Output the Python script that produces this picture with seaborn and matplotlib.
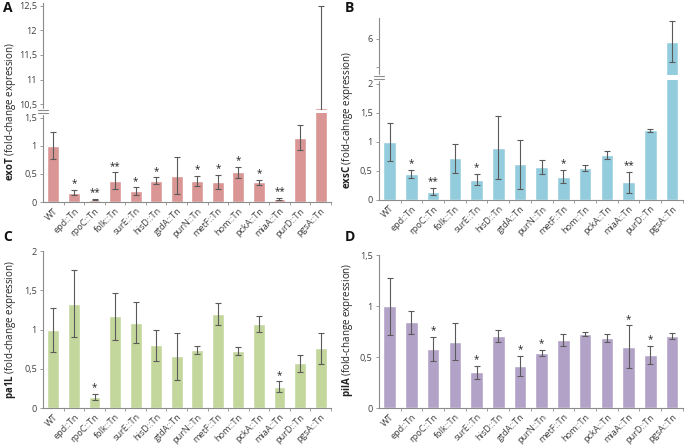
import matplotlib.pyplot as plt
import pandas as pd
import seaborn as sns
from matplotlib.lines import Line2D
from matplotlib.patches import Rectangle
from matplotlib.ticker import FuncFormatter, FixedLocator

strains = ["WT", "epd::Tn", "rpoC::Tn", "folk::Tn", "surE::Tn", "hisD::Tn",
           "gtdA::Tn", "purN::Tn", "metF::Tn", "hom::Tn", "pckA::Tn",
           "miaA::Tn", "purD::Tn", "pgsA::Tn"]

exot_mean = [1.0, 0.17, 0.04, 0.38, 0.19, 0.38, 0.47, 0.38, 0.36, 0.53,
             0.35, 0.05, 1.15, 10.43]
exot_err = [0.24, 0.04, 0.01, 0.15, 0.07, 0.06, 0.33, 0.09, 0.12, 0.10,
            0.05, 0.02, 0.22, 2.07]
exot_stars = ["", "*", "**", "**", "*", "*", "", "*", "*", "*", "*", "**",
              "", ""]

exsc_mean = [1.0, 0.45, 0.14, 0.72, 0.35, 0.90, 0.61, 0.57, 0.40, 0.55,
             0.78, 0.30, 1.20, 5.81]
exsc_err = [0.33, 0.07, 0.06, 0.25, 0.10, 0.54, 0.42, 0.12, 0.11, 0.05,
            0.07, 0.18, 0.03, 1.43]
exsc_stars = ["", "*", "**", "", "*", "", "", "", "*", "", "", "**", "", ""]

pa1l_mean = [1.0, 1.33, 0.14, 1.17, 1.09, 0.80, 0.66, 0.74, 1.20, 0.73,
             1.07, 0.27, 0.57, 0.76]
pa1l_err = [0.28, 0.43, 0.04, 0.30, 0.26, 0.20, 0.30, 0.05, 0.14, 0.05,
            0.10, 0.07, 0.11, 0.20]
pa1l_stars = ["", "", "*", "", "", "", "", "", "", "", "", "*", "", ""]

pila_mean = [1.0, 0.84, 0.58, 0.65, 0.35, 0.71, 0.41, 0.54, 0.67, 0.73,
             0.69, 0.60, 0.52, 0.71]
pila_err = [0.28, 0.11, 0.12, 0.18, 0.06, 0.06, 0.10, 0.03, 0.06, 0.02,
            0.04, 0.21, 0.09, 0.03]
pila_stars = ["", "", "*", "", "*", "", "*", "*", "", "", "", "*", "*", ""]

sns.set_theme(style="white")
plt.rcParams["font.family"] = ["Open Sans", "DejaVu Sans"]
plt.rcParams["mathtext.fontset"] = "custom"
plt.rcParams["mathtext.bf"] = "Open Sans:bold"
plt.rcParams["mathtext.rm"] = "Open Sans"

SPINE = "#8c8c8c"
TEXT = "#404040"
ERR = "#5a5a5a"

comma_fmt = FuncFormatter(lambda v, p: f"{v:g}".replace(".", ","))


def draw_bars(ax, means, errs, stars, color, show_x=True):
    df = pd.DataFrame({"strain": strains, "value": means})
    sns.barplot(data=df, x="strain", y="value", color=color, width=0.58,
                saturation=1, errorbar=None, ax=ax)
    ax.errorbar(range(len(strains)), means, yerr=errs, fmt="none",
                ecolor=ERR, elinewidth=0.8, capsize=2, capthick=0.8)
    lo, hi = ax.get_ylim()
    for i, (m, e, s) in enumerate(zip(means, errs, stars)):
        if s and lo <= m + e <= hi:
            ax.annotate(s, (i, m + e), xytext=(0, 0.5),
                        textcoords="offset points", ha="center", va="bottom",
                        fontsize=7, color="#222222")
    ax.set_xlim(-0.5, len(strains) - 0.5)
    ax.set_xlabel("")
    ax.set_ylabel("")
    sns.despine(ax=ax)
    for side in ("left", "bottom"):
        ax.spines[side].set_color(SPINE)
        ax.spines[side].set_linewidth(0.8)
    ax.yaxis.set_major_formatter(comma_fmt)
    ax.tick_params(axis="y", length=2.5, width=0.6, color=SPINE,
                   labelsize=6.6, labelcolor=TEXT, pad=2, left=True)
    ax.xaxis.set_minor_locator(FixedLocator(
        [i + 0.5 for i in range(len(strains))]))
    ax.tick_params(axis="x", which="major", length=0)
    ax.tick_params(axis="x", which="minor", length=2.5, width=0.6,
                   color=SPINE, bottom=True)
    if show_x:
        ax.set_xticks(range(len(strains)))
        ax.set_xticklabels(strains, rotation=45, ha="right",
                           rotation_mode="anchor", fontsize=6.6, color=TEXT)
        ax.tick_params(axis="x", which="major", pad=3)
    else:
        ax.set_xticklabels([])
        ax.tick_params(axis="x", which="minor", length=0)


def break_mark(fig, x, y):
    fig.add_artist(Rectangle((x - 0.008, y - 0.006), 0.016, 0.012,
                             transform=fig.transFigure, color="white",
                             zorder=10))
    for dy in (-0.0035, 0.0035):
        fig.add_artist(Line2D([x - 0.007, x + 0.007], [y + dy, y + dy],
                              transform=fig.transFigure, color=SPINE,
                              lw=0.8, zorder=11))


fig = plt.figure(figsize=(6.85, 4.46), dpi=100)

left_a, width_a = 0.063, 0.420
left_b, width_b = 0.553, 0.444

# Panel A: broken axis
ax_a_top = fig.add_axes([left_a, 0.753, width_a, 0.240])
ax_a_bot = fig.add_axes([left_a, 0.547, width_a, 0.200])
ax_a_top.set_ylim(10.38, 12.55)
ax_a_bot.set_ylim(0, 1.59)
draw_bars(ax_a_top, exot_mean, exot_err, exot_stars, "#d99694", show_x=False)
draw_bars(ax_a_bot, exot_mean, exot_err, exot_stars, "#d99694")
ax_a_top.spines["bottom"].set_visible(False)
ax_a_top.set_yticks([10.5, 11, 11.5, 12, 12.5])
ax_a_bot.set_yticks([0, 0.5, 1, 1.5])
break_mark(fig, left_a, 0.750)
fig.text(0.016, 0.75, r"$\bf{exoT}$ (fold-change expression)",
         rotation=90, ha="center", va="center", fontsize=7, color="#222222")

# Panel B: broken axis
ax_b_top = fig.add_axes([left_b, 0.832, width_b, 0.128])
ax_b_bot = fig.add_axes([left_b, 0.552, width_b, 0.269])
ax_b_top.set_ylim(3.43, 7.5)
ax_b_bot.set_ylim(0, 2.07)
draw_bars(ax_b_top, exsc_mean, exsc_err, exsc_stars, "#93cddd", show_x=False)
draw_bars(ax_b_bot, exsc_mean, exsc_err, exsc_stars, "#93cddd")
ax_b_top.spines["bottom"].set_visible(False)
ax_b_top.set_yticks([4, 6])
ax_b_top.set_yticklabels(["", "6"])
ax_b_bot.set_yticks([0, 0.5, 1, 1.5, 2])
break_mark(fig, left_b, 0.826)
fig.text(0.508, 0.73, r"$\bf{exsC}$ (fold-cahnge expression)",
         rotation=90, ha="center", va="center", fontsize=7, color="#222222")

# Panel C
ax_c = fig.add_axes([left_a, 0.085, width_a, 0.352])
ax_c.set_ylim(0, 2)
draw_bars(ax_c, pa1l_mean, pa1l_err, pa1l_stars, "#c3d69b")
ax_c.set_yticks([0, 0.5, 1, 1.5, 2])
fig.text(0.016, 0.26, r"$\bf{pa1L}$ (fold-change expression)",
         rotation=90, ha="center", va="center", fontsize=7, color="#222222")

# Panel D
ax_d = fig.add_axes([left_b, 0.085, width_b, 0.343])
ax_d.set_ylim(0, 1.5)
draw_bars(ax_d, pila_mean, pila_err, pila_stars, "#b3a2c7")
ax_d.set_yticks([0, 0.5, 1, 1.5])
fig.text(0.508, 0.26, r"$\bf{pilA}$ (fold-change expression)",
         rotation=90, ha="center", va="center", fontsize=7, color="#222222")

for letter, x, y in (("A", 0.005, 0.982), ("B", 0.503, 0.982),
                     ("C", 0.005, 0.468), ("D", 0.503, 0.468)):
    fig.text(x, y, letter, fontsize=10, fontweight="bold", ha="left",
             va="center", color="#111111")

fig.savefig("out.png", dpi=100)
